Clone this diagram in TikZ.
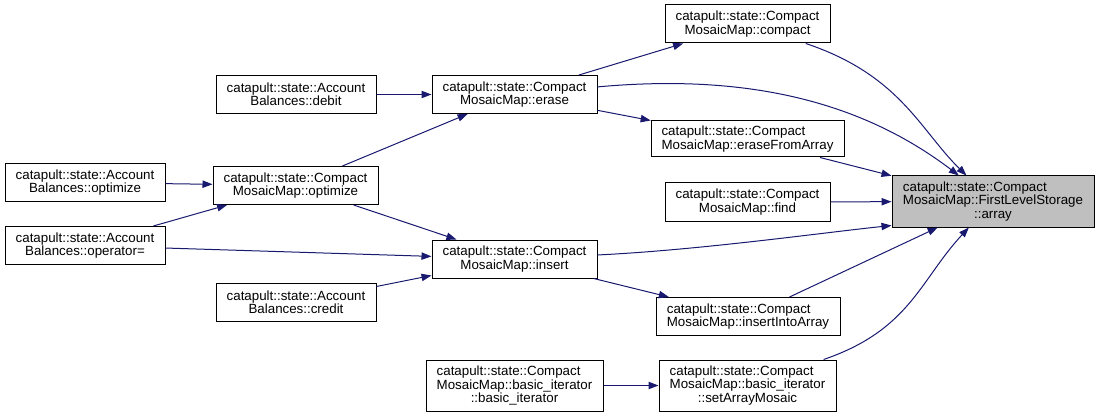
\documentclass[tikz,border=0pt]{standalone}
\usepackage{fontspec}
\setmainfont{Liberation Sans}
\usetikzlibrary{arrows.meta,calc}
\definecolor{edge}{HTML}{191970}
\definecolor{focus}{HTML}{BFBFBF}
\newlength{\padw}
\newcommand{\padline}[2]{\settowidth{\padw}{#2}\makebox[\padw][l]{#1}\\#2}
\tikzset{
  fnbox/.style={draw=black,fill=white,line width=0.75pt,inner sep=2pt,align=center,
                font=\fontsize{10}{10}\selectfont,
                minimum width=165*0.75pt,minimum height=38*0.75pt},
  tallbox/.style={fnbox,minimum height=51*0.75pt},
  focusbox/.style={tallbox,fill=focus},
  call/.style={-{Triangle[length=7.5pt,width=5.5pt]},line width=0.75pt,draw=edge}
}

\begin{document}
\begin{tikzpicture}[x=0.75pt,y=-0.75pt]
    \useasboundingbox (0,0) rectangle (1099,417);
    % callers, left to right
    \node[fnbox,minimum width=160*0.75pt] (acctOpt) at (85,182.5) {catapult::state::Account\\Balances::optimize};
    \node[fnbox,minimum width=160*0.75pt] (acctAssign) at (85,245.5) {catapult::state::Account\\Balances::operator=};
    \node[fnbox,minimum width=160*0.75pt] (debit) at (296,94.5) {catapult::state::Account\\Balances::debit};
    \node[fnbox] (mapOpt) at (295.5,185.5) {catapult::state::Compact\\MosaicMap::optimize};
    \node[fnbox,minimum width=160*0.75pt] (credit) at (296,302.5) {catapult::state::Account\\Balances::credit};
    \node[fnbox] (erase) at (514.5,94.5) {catapult::state::Compact\\MosaicMap::erase};
    \node[fnbox] (insert) at (514.5,259) {catapult::state::Compact\\MosaicMap::insert};
    \node[tallbox,minimum width=177*0.75pt] (iterCtor) at (514.5,385.5) {\padline{catapult::state::Compact}{MosaicMap::basic\_iterator}\\::basic\_iterator};
    \node[fnbox] (compact) at (747.5,24) {catapult::state::Compact\\MosaicMap::compact};
    \node[fnbox,minimum width=193*0.75pt,minimum height=36*0.75pt] (eraseArr) at (747.5,139) {\padline{catapult::state::Compact}{MosaicMap::eraseFromArray}};
    \node[fnbox] (find) at (747.5,202) {catapult::state::Compact\\MosaicMap::find};
    \node[fnbox,minimum width=184*0.75pt] (insertArr) at (748,316.5) {\padline{catapult::state::Compact}{MosaicMap::insertIntoArray}};
    \node[tallbox,minimum width=177*0.75pt] (setMosaic) at (747.5,385.5) {\padline{catapult::state::Compact}{MosaicMap::basic\_iterator}\\::setArrayMosaic};
    % the function itself
    \node[focusbox,minimum width=202*0.75pt] (array) at (993,201.5) {\padline{catapult::state::Compact}{MosaicMap::FirstLevelStorage}\\::array};
    % calls
    \draw[call] (acctOpt) -- (mapOpt);
    \draw[call] (acctAssign) -- (mapOpt);
    \draw[call] (acctAssign) -- (insert);
    \draw[call] (debit) -- (erase);
    \draw[call] (mapOpt) -- (erase);
    \draw[call] (mapOpt) -- (insert);
    \draw[call] (credit) -- (insert);
    \draw[call] (erase) -- (compact);
    \draw[call] (erase) -- (eraseArr);
    \draw[call] (insert) -- (insertArr);
    \draw[call] (iterCtor) -- (setMosaic);
    \draw[call] (compact) .. controls (900,75) and (920,130) .. (array);
    \draw[call] (erase) .. controls (760,72) and (870,108) .. (array);
    \draw[call] (eraseArr) -- (array);
    \draw[call] (find) -- (array);
    \draw[call] (insert) .. controls (700,250) and (820,233) .. ($(array.south west)+(0,-2)$);
    \draw[call] (insertArr) -- (array);
    \draw[call] (setMosaic) .. controls (910,330) and (920,280) .. (array);
\end{tikzpicture}
\end{document}
